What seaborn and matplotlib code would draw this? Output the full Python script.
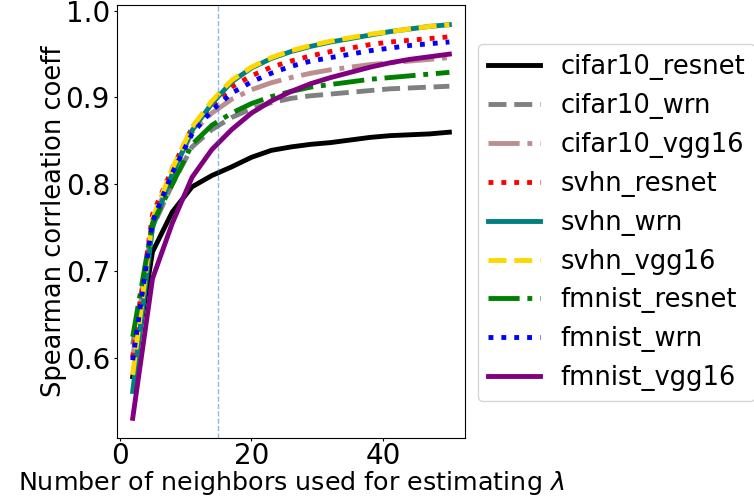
import matplotlib
matplotlib.use("Agg")
import matplotlib.pyplot as plt
import seaborn as sns
import pandas as pd

neighbors = [2, 5, 8, 11, 14, 17, 20, 23, 26, 29, 32, 35, 38, 41, 44, 47, 50]

cifar10_resnet = [0.578, 0.722, 0.768, 0.797, 0.810, 0.820, 0.831, 0.839, 0.843, 0.846, 0.848, 0.851, 0.854, 0.856, 0.857, 0.858, 0.860]
cifar10_wrn    = [0.615, 0.750, 0.800, 0.843, 0.863, 0.877, 0.887, 0.894, 0.899, 0.902, 0.904, 0.906, 0.908, 0.910, 0.911, 0.912, 0.913]
cifar10_vgg16  = [0.600, 0.757, 0.812, 0.860, 0.882, 0.898, 0.909, 0.917, 0.923, 0.928, 0.932, 0.935, 0.938, 0.940, 0.942, 0.944, 0.946]
svhn_resnet    = [0.600, 0.765, 0.818, 0.865, 0.890, 0.912, 0.925, 0.935, 0.942, 0.948, 0.953, 0.957, 0.961, 0.964, 0.966, 0.968, 0.970]
svhn_wrn       = [0.561, 0.750, 0.812, 0.862, 0.893, 0.918, 0.934, 0.945, 0.953, 0.959, 0.964, 0.968, 0.972, 0.976, 0.979, 0.982, 0.984]
svhn_vgg16     = [0.580, 0.760, 0.818, 0.866, 0.896, 0.920, 0.935, 0.946, 0.954, 0.960, 0.965, 0.969, 0.973, 0.976, 0.979, 0.982, 0.984]
fmnist_resnet  = [0.624, 0.755, 0.800, 0.846, 0.868, 0.882, 0.893, 0.901, 0.907, 0.912, 0.915, 0.918, 0.921, 0.923, 0.925, 0.927, 0.929]
fmnist_wrn     = [0.597, 0.757, 0.813, 0.858, 0.885, 0.905, 0.918, 0.928, 0.936, 0.942, 0.946, 0.950, 0.954, 0.957, 0.960, 0.962, 0.964]
fmnist_vgg16   = [0.530, 0.691, 0.755, 0.808, 0.840, 0.863, 0.882, 0.896, 0.907, 0.916, 0.923, 0.929, 0.935, 0.940, 0.944, 0.947, 0.950]

series_names = ["cifar10_resnet", "cifar10_wrn", "cifar10_vgg16",
                "svhn_resnet", "svhn_wrn", "svhn_vgg16",
                "fmnist_resnet", "fmnist_wrn", "fmnist_vgg16"]
series_values = [cifar10_resnet, cifar10_wrn, cifar10_vgg16,
                 svhn_resnet, svhn_wrn, svhn_vgg16,
                 fmnist_resnet, fmnist_wrn, fmnist_vgg16]
colors = ["black", "gray", "rosybrown", "red", "teal", "gold", "green", "blue", "purple"]
styles = ["-", "--", "-.", ":", "-", "--", "-.", ":", "-"]

chosen_k = 15
xlabel = r"Number of neighbors used for estimating $\lambda$"
ylabel = "Spearman corrleation coeff"
xticks = [0, 20, 40]
yticks = [0.6, 0.7, 0.8, 0.9, 1.0]
ytick_labels = ["0.6", "0.7", "0.8", "0.9", "1.0"]

plt.rcParams["font.size"] = 18.5

fig = plt.figure(figsize=(7.54, 4.98), dpi=100)
ax = fig.add_axes([0.155, 0.1205, 0.462, 0.8695])

for name, vals, c, ls in zip(series_names, series_values, colors, styles):
    df = pd.DataFrame({"k": neighbors, "v": vals})
    sns.lineplot(data=df, x="k", y="v", ax=ax, color=c, linestyle=ls,
                 linewidth=3.5, label=name)

ax.axvline(chosen_k, linestyle="--", linewidth=1, color="C0", alpha=0.5)

ax.set_xlabel(xlabel, fontsize=18.3, labelpad=-0.5)
ax.set_ylabel(ylabel, fontsize=18.5, labelpad=-1)
ax.set_xticks(xticks)
ax.set_yticks(yticks)
ax.set_yticklabels(ytick_labels)
ax.tick_params(axis="both", labelsize=20, length=2.5)
ax.tick_params(axis="x", pad=0.5)
ax.tick_params(axis="y", pad=2.5)
ax.legend(loc="center left", bbox_to_anchor=(1.0, 0.497), fontsize=18.5)

fig.savefig("out.png", dpi=100)
